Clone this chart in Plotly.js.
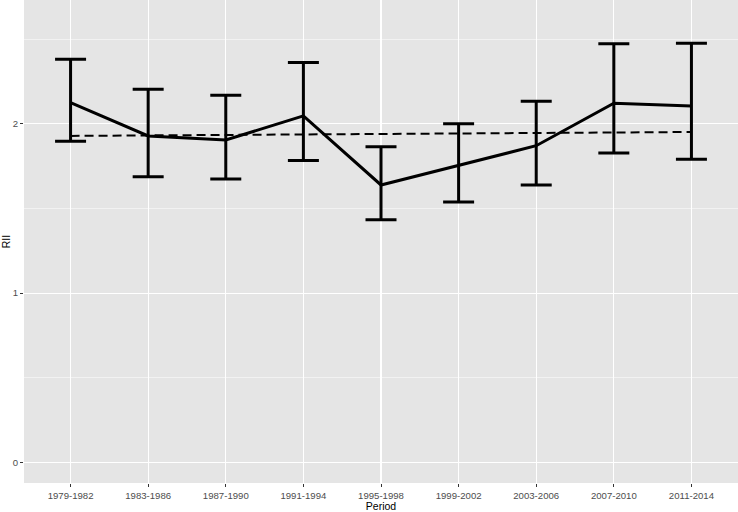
<!DOCTYPE html>
<html>
<head>
<meta charset="utf-8">
<script src="https://cdn.plot.ly/plotly-3.0.1.min.js"></script>
<style>html,body{margin:0;padding:0;background:#fff;}#chart{width:738px;height:512px;}</style>
</head>
<body>
<div id="chart"></div>
<script>
var periods = ["1979-1982","1983-1986","1987-1990","1991-1994","1995-1998","1999-2002","2003-2006","2007-2010","2011-2014"];
var rii = [2.125, 1.929, 1.905, 2.047, 1.639, 1.753, 1.871, 2.122, 2.106];
var upper = [2.382, 2.204, 2.169, 2.362, 1.865, 2.001, 2.134, 2.474, 2.476];
var lower = [1.897, 1.688, 1.674, 1.783, 1.434, 1.538, 1.639, 1.828, 1.791];
var trend = [1.929, 1.932, 1.935, 1.938, 1.941, 1.943, 1.946, 1.949, 1.952];

var errPlus = rii.map(function(v,i){return upper[i]-v;});
var errMinus = rii.map(function(v,i){return v-lower[i];});

var traces = [
  {x: periods, y: trend, type:'scatter', mode:'lines',
   line:{color:'#000', width:2, dash:'9px,5px'}, hoverinfo:'skip'},
  {x: periods, y: rii, type:'scatter', mode:'lines',
   line:{color:'#000', width:3},
   error_y:{type:'data', symmetric:false, array:errPlus, arrayminus:errMinus,
            color:'#000', thickness:3, width:15.5}}
];

var layout = {
  width:738, height:512,
  margin:{l:24, r:0, t:0, b:29, pad:0},
  paper_bgcolor:'#fff', plot_bgcolor:'#e5e5e5',
  showlegend:false,
  font:{family:'Liberation Sans, Arial, sans-serif'},
  xaxis:{type:'category', range:[-0.6, 8.6], showgrid:true, gridcolor:'#fff', gridwidth:1.2,
         zeroline:false, showline:false, ticks:'outside', ticklen:3, tickcolor:'#333', tickwidth:1,
         tickfont:{size:9.6, color:'#4d4d4d'},
         title:{text:'Period', font:{size:10.5, color:'#000'}, standoff:2}},
  yaxis:{range:[-0.122, 2.732], tickvals:[0,1,2], ticktext:['0','1','2'],
         showgrid:true, gridcolor:'#fff', gridwidth:1.2, zeroline:false, showline:false,
         ticks:'outside', ticklen:3, tickcolor:'#333', tickwidth:1,
         tickfont:{size:9.6, color:'#4d4d4d'},
         minor:{tickvals:[0.5,1.5,2.5], showgrid:true, gridcolor:'#f5f5f5', gridwidth:0.8, ticks:''},
         title:{text:'RII', font:{size:10.5, color:'#000'}, standoff:2}}
};

Plotly.newPlot('chart', traces, layout, {displayModeBar:false, staticPlot:true});
</script>
</body>
</html>
